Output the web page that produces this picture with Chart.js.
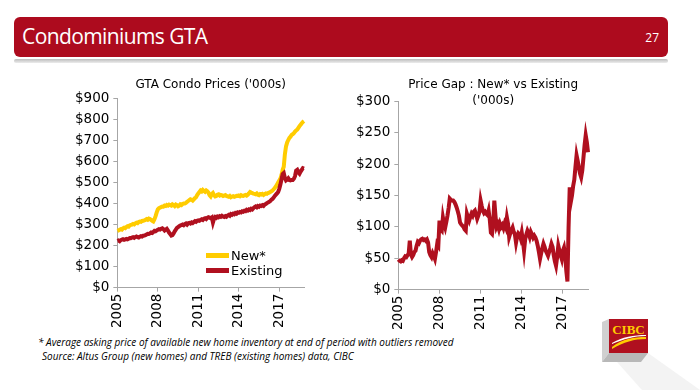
<!DOCTYPE html>
<html lang="en">
<head>
    <meta charset="UTF-8">
    <title>Condominiums GTA</title>
    <script src="https://cdn.jsdelivr.net/npm/chart.js"></script>
    <style>
        body { margin: 0; width: 700px; height: 390px; background: #fff; position: relative; overflow: hidden; font-family: "DejaVu Sans", sans-serif; }
        .header { position: absolute; left: 14px; top: 17px; width: 654px; height: 40px; background: #ad0b1e; border-radius: 6px; color: #fff; }
        .header h1 { margin: 0; position: absolute; left: 8px; top: 5px; font: 21px "Open Sans", sans-serif; letter-spacing: -0.6px; }
        .header .page { position: absolute; right: 9px; top: 12px; font: 12px "Open Sans", sans-serif; }
        .rule { position: absolute; left: 14px; top: 59px; width: 654px; height: 4px; border-radius: 2px; background: linear-gradient(#bdbdbd, #ececec); }
        .box { position: absolute; }
        #leftBox { left: 71px; top: 74px; width: 241px; height: 256px; }
        #rightBox { left: 352px; top: 76px; width: 244px; height: 256px; }
        .legend { position: absolute; left: 206px; top: 248px; font-size: 13px; line-height: 15px; }
        .legend div { position: relative; padding-left: 25px; }
        .legend span { position: absolute; left: 0; top: 5px; width: 23px; height: 5px; }
        .note { position: absolute; left: 38px; font: italic 10px "Open Sans", sans-serif; color: #000; }
        .logo { position: absolute; left: 602px; top: 319px; }
    </style>
</head>
<body>
    <div class="header">
        <h1>Condominiums GTA</h1>
        <div class="page">27</div>
    </div>
    <div class="rule"></div>

    <div class="box" id="leftBox"><canvas id="pricesChart"></canvas></div>
    <div class="box" id="rightBox"><canvas id="gapChart"></canvas></div>

    <div class="legend">
        <div><span style="background:#ffcc00"></span>New*</div>
        <div><span style="background:#b0101f"></span>Existing</div>
    </div>

    <div class="note" style="top:335px">* Average asking price of available new home inventory at end of period with outliers removed</div>
    <div class="note" style="top:349px; left:42px">Source: Altus Group (new homes) and TREB (existing homes) data, CIBC</div>

    <svg class="logo" width="98" height="71" viewBox="0 0 98 71">
        <polygon points="7,34 46,34 98,71 40,71" fill="#f3f3f3"/>
        <polygon points="0,3 7,0 7,34 0,43" fill="#d0d0d0"/>
        <polygon points="0,43 7,34 46,34 39,43" fill="#b8b8b8"/>
        <rect x="7" y="0" width="39" height="34" fill="#b0101f"/>
        <text x="26.5" y="15" text-anchor="middle" font-family="Liberation Serif" font-weight="bold" font-size="13" fill="#ffcc00">CIBC</text>
        <path d="M10,28 C20,20 32,18 44,18 L44,20 C32,20 22,23 10,30 Z" fill="#ffcc00"/>
        <path d="M10,24 C20,18 32,16 44,16 L44,17 C32,17 22,20 10,25 Z" fill="#ffffff"/>
    </svg>

<script>
// monthly data, Jan 2005 .. Nov 2018 ($000s)
var startYear = 2005;
var tickYears = ['2005', '2008', '2011', '2014', '2017'];

var newPrices = [
    270, 272, 275, 278, 276, 282, 285, 283, 288, 292, 290, 296,
    298, 300, 303, 301, 306, 309, 307, 312, 314, 313, 317, 318,
    320, 322, 326, 323, 328, 326, 322, 318, 315, 325, 340, 358,
    372, 378, 380, 383, 386, 385, 390, 388, 393, 390, 395, 392,
    390, 396, 393, 388, 395, 392, 387, 390, 396, 393, 398, 400,
    400, 403, 408, 412, 416, 420, 418, 414, 420, 426, 430, 440,
    448, 455, 462, 458, 465, 460, 456, 462, 458, 452, 440, 434,
    445, 450, 440, 434, 436, 442, 444, 438, 441, 439, 436, 438,
    440, 436, 434, 432, 436, 430, 433, 435, 432, 434, 437, 436,
    438, 435, 440, 437, 436, 439, 441, 438, 442, 448, 455, 452,
    450, 447, 446, 444, 448, 442, 440, 445, 443, 446, 441, 445,
    448, 446, 450, 452, 455, 458, 462, 468, 474, 482, 490, 500,
    510, 518, 535, 560, 575, 635, 672, 690, 702, 712, 718, 726,
    730, 735, 742, 748, 752, 760, 768, 775, 782, 788, 792
];

var existingPrices = [
    222, 224, 221, 226, 228, 230, 227, 229, 232, 230, 233, 236,
    235, 238, 240, 237, 241, 243, 240, 238, 242, 245, 243, 247,
    248, 250, 253, 256, 255, 258, 262, 260, 265, 270, 268, 272,
    275, 278, 276, 280, 282, 278, 272, 276, 280, 272, 262, 255,
    248, 250, 258, 268, 276, 284, 288, 292, 295, 298, 300, 297,
    302, 305, 300, 306, 308, 305, 310, 307, 312, 316, 313, 318,
    320, 318, 322, 325, 322, 328, 330, 326, 332, 335, 333, 330,
    334, 310, 328, 336, 332, 338, 335, 340, 337, 342, 338, 336,
    340, 337, 343, 346, 342, 350, 347, 352, 349, 355, 352, 358,
    356, 360, 358, 363, 361, 366, 364, 370, 367, 372, 369, 375,
    372, 378, 383, 386, 382, 388, 385, 390, 388, 392, 389, 395,
    398, 402, 405, 408, 412, 418, 422, 428, 436, 442, 448, 455,
    470, 490, 515, 540, 545, 522, 510, 514, 520, 512, 510, 512,
    512, 518, 530, 556, 560, 548, 542, 552, 560, 568, 566
];

var priceGap = [
    48, 46, 45, 47, 46, 50, 53, 52, 55, 57, 78, 56,
    52, 55, 60, 62, 70, 76, 74, 78, 80, 81, 79, 80,
    78, 80, 75, 60, 55, 52, 58, 54, 49, 60, 73, 70,
    110, 96, 94, 115, 105, 99, 108, 118, 130, 145, 143, 142,
    142, 140, 136, 131, 125, 118, 107, 104, 102, 100, 96, 94,
    121, 115, 110, 116, 121, 118, 124, 126, 120, 113, 118, 124,
    142, 133, 126, 122, 124, 121, 119, 126, 112, 91, 89, 105,
    142, 118, 100, 104, 97, 105, 100, 103, 98, 105, 100, 115,
    105, 84, 90, 95, 99, 92, 88, 75, 85, 90, 88, 82,
    91, 78, 62, 80, 88, 94, 90, 84, 92, 88, 83, 86,
    83, 78, 70, 60, 49, 58, 66, 73, 68, 62, 58, 54,
    60, 66, 73, 68, 55, 45, 38, 52, 70, 62, 55, 49,
    62, 67, 55, 30, 13, 100, 163, 140, 150, 165, 175, 195,
    214, 205, 195, 185, 179, 190, 210, 230, 246, 235, 219
];

var yellow = '#ffcc00';
var red = '#b0101f';
var axisGray = '#a6a6a6';

// month labels for the category axis
var months = [];
for (var i = 0; i < newPrices.length; i++) {
    var y = startYear + Math.floor(i / 12);
    months.push(y + '-' + String(i % 12 + 1).padStart(2, '0'));
}

Chart.defaults.font.family = '"DejaVu Sans", sans-serif';
Chart.defaults.color = '#000';
Chart.defaults.animation = false;

function axes(yMax, yStep) {
    return {
        x: {
            type: 'category',
            offset: false,
            grid: { display: true, drawOnChartArea: false, color: axisGray, tickLength: 4 },
            border: { color: axisGray },
            ticks: {
                autoSkip: false,
                minRotation: 90,
                maxRotation: 90,
                padding: 2,
                font: { size: 13.5 },
                callback: function (value, index) {
                    var m = months[index];
                    if (m.slice(5) !== '01') return null;
                    return tickYears.indexOf(m.slice(0, 4)) >= 0 ? m.slice(0, 4) : null;
                }
            }
        },
        y: {
            min: 0,
            max: yMax,
            grid: { display: true, drawOnChartArea: false, color: axisGray, tickLength: 4 },
            border: { color: axisGray },
            ticks: {
                stepSize: yStep,
                padding: 4,
                font: { size: 13.5 },
                callback: function (v) { return '$' + v; }
            }
        }
    };
}

new Chart(document.getElementById('pricesChart'), {
    type: 'line',
    data: {
        labels: months,
        datasets: [
            { label: 'New*', data: newPrices, borderColor: yellow, borderWidth: 4, pointRadius: 0, order: 1 },
            { label: 'Existing', data: existingPrices, borderColor: red, borderWidth: 4, pointRadius: 0, order: 0 }
        ]
    },
    options: {
        responsive: true,
        maintainAspectRatio: false,
        layout: { padding: { right: 8 } },
        plugins: {
            legend: { display: false },
            tooltip: { enabled: false },
            title: {
                display: true,
                fullSize: false,
                text: "GTA Condo Prices ('000s)",
                font: { size: 12, weight: 'normal' },
                padding: { top: 4, bottom: 6 }
            }
        },
        scales: axes(900, 100)
    }
});

new Chart(document.getElementById('gapChart'), {
    type: 'line',
    data: {
        labels: months,
        datasets: [
            { label: 'Price Gap', data: priceGap, borderColor: red, borderWidth: 4, pointRadius: 0 }
        ]
    },
    options: {
        responsive: true,
        maintainAspectRatio: false,
        layout: { padding: { right: 8 } },
        plugins: {
            legend: { display: false },
            tooltip: { enabled: false },
            title: {
                display: true,
                fullSize: false,
                text: ['Price Gap : New* vs Existing', "('000s)"],
                font: { size: 12, weight: 'normal', lineHeight: 1.35 },
                padding: { top: 1, bottom: -8 }
            }
        },
        scales: axes(300, 50)
    }
});
</script>
</body>
</html>
